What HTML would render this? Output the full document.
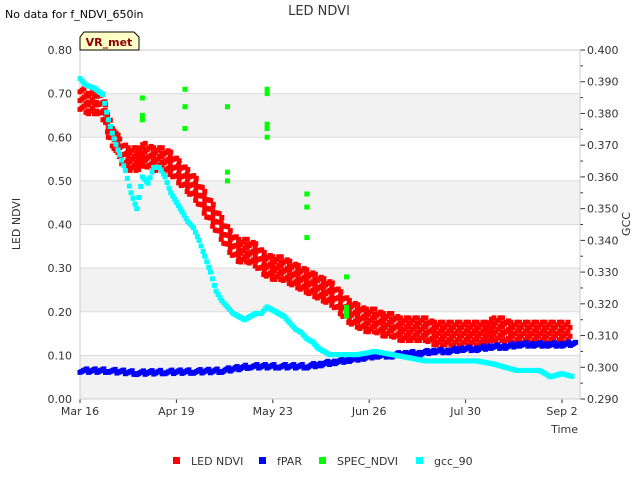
<!DOCTYPE html>
<html><head><meta charset="utf-8"><style>
body{margin:0;background:#fff;font-family:"Liberation Sans","DejaVu Sans",sans-serif;}
svg text{font-family:"DejaVu Sans","Liberation Sans",sans-serif;}
</style></head><body>
<svg id="chart" width="640" height="480">
</svg>
<script>
const ledDays=[0,3,6,9,10,12,14,17,20,23,26,29,32,35,38,41,44,47,50,53,56,59,62,65,68,71,74,77,80,83,86,89,92,95,98,101,104,107,110,113,116,119,122,125,128,131,134,137,140,143,146,149,152,155,158,161,164,167,170,173];
const ledNdvi=[0.69,0.68,0.68,0.66,0.62,0.60,0.57,0.55,0.55,0.56,0.55,0.55,0.54,0.52,0.50,0.48,0.45,0.42,0.39,0.36,0.34,0.34,0.33,0.31,0.30,0.30,0.29,0.28,0.27,0.26,0.25,0.24,0.22,0.20,0.19,0.18,0.18,0.17,0.17,0.16,0.16,0.16,0.16,0.15,0.15,0.15,0.15,0.15,0.15,0.15,0.16,0.16,0.15,0.15,0.15,0.15,0.15,0.15,0.15,0.15];
const fparDays=[0,10,20,30,40,50,60,70,80,85,90,95,100,105,110,115,120,125,130,135,140,145,150,155,160,165,170,175];
const fpar=[0.065,0.065,0.06,0.062,0.063,0.065,0.075,0.075,0.075,0.08,0.085,0.09,0.095,0.10,0.10,0.105,0.105,0.11,0.11,0.115,0.115,0.12,0.12,0.125,0.125,0.125,0.125,0.128];
const gccDays=[0,2,5,8,10,12,14,16,18,20,22,24,26,28,30,32,34,36,38,40,42,44,46,48,50,52,54,56,58,60,62,64,66,68,70,72,74,76,78,80,82,84,86,88,90,94,98,104,110,116,122,128,134,140,146,150,154,158,162,166,170,174];
const gcc=[0.391,0.389,0.388,0.386,0.378,0.372,0.367,0.362,0.355,0.35,0.36,0.358,0.363,0.363,0.36,0.355,0.352,0.349,0.346,0.344,0.34,0.335,0.33,0.324,0.321,0.319,0.317,0.316,0.315,0.316,0.317,0.317,0.319,0.318,0.317,0.316,0.314,0.312,0.311,0.309,0.308,0.306,0.305,0.304,0.304,0.304,0.304,0.305,0.304,0.303,0.302,0.302,0.302,0.302,0.301,0.300,0.299,0.299,0.299,0.297,0.298,0.297];
const specDays=[22,22,22,37,37,37,52,52,52,66,66,66,66,66,80,80,80,94,94,94,94];
const specNdvi=[0.69,0.65,0.64,0.71,0.67,0.62,0.67,0.52,0.50,0.71,0.70,0.63,0.62,0.60,0.47,0.44,0.37,0.28,0.21,0.20,0.19];
const xTickLabels=["Mar 16","Apr 19","May 23","Jun 26","Jul 30","Sep 2"];
const xTickDays=[0,34,68,102,136,170];
const yTicks=[0,0.1,0.2,0.3,0.4,0.5,0.6,0.7,0.8];
const y2Ticks=[0.29,0.30,0.31,0.32,0.33,0.34,0.35,0.36,0.37,0.38,0.39,0.40];

const NS="http://www.w3.org/2000/svg";
const svg=document.getElementById('chart');
const L=80,R=580,T=50,B=399;
const x=d=>L+d*(562-80)/170;
const y=v=>B-v/0.8*(B-T);
const y2=v=>B-(v-0.29)/0.11*(B-T);
function mk(tag,attrs,parent){const e=document.createElementNS(NS,tag);for(const k in attrs)e.setAttribute(k,attrs[k]);(parent||svg).appendChild(e);return e;}
function txt(s,attrs){const e=mk('text',attrs);e.textContent=s;return e;}
function interp(days,vals,step,fn){for(let i=0;i<days.length-1;i++){const d=days[i],n=days[i+1];for(let k=d;k<n;k+=step){fn(k,vals[i]+(vals[i+1]-vals[i])*(k-d)/(n-d));}}}

mk('rect',{x:L,y:T,width:R-L,height:B-T,fill:'#fff'});
for(let i=0;i<8;i+=2){const r=mk('rect',{x:L,y:y(yTicks[i+1]),width:R-L,height:y(yTicks[i])-y(yTicks[i+1]),fill:'#f2f2f2'});

}
yTicks.forEach(v=>{mk('line',{x1:L,x2:R,y1:y(v),y2:y(v),stroke:'#dcdcdc'});
const t=txt(v.toFixed(2),{x:72,y:y(v)+4,'text-anchor':'end','font-size':11,fill:'#333'});

});
y2Ticks.forEach(v=>{mk('line',{x1:R,x2:R+5,y1:y2(v),y2:y2(v),stroke:'#333'});
const t=txt(v.toFixed(3),{x:587,y:y2(v)+4,'font-size':11,fill:'#333'});

});
for(let v=0.295;v<0.40;v+=0.01)mk('line',{x1:R,x2:R+3,y1:y2(v),y2:y2(v),stroke:'#333'});
xTickDays.forEach((d,i)=>{mk('line',{x1:x(d),x2:x(d),y1:B,y2:B+4,stroke:'#333'});
const t=txt(xTickLabels[i],{x:x(d),y:415,'text-anchor':'middle','font-size':11,fill:'#333'});

});
mk('rect',{x:L,y:T,width:R-L,height:B-T,fill:'none',stroke:'#ccc'});

interp(ledDays,ledNdvi,0.7,(k,v)=>{[-0.02,0,0.02].forEach((o,j)=>{
const r=mk('rect',{x:x(k)-2.5,y:y(v+o+((Math.round(k*10)%3)-1)*0.006)-2.5,width:5,height:5,fill:'#f00'});

});});
interp(fparDays,fpar,0.6,(k,v)=>{const o=((Math.round(k*10)%5)-2)*0.002;
const r=mk('rect',{x:x(k)-2.5,y:y(v+o)-2.5,width:5,height:5,fill:'#00f'});

});
interp(gccDays,gcc,0.7,(k,v)=>{const r=mk('rect',{x:x(k)-2.5,y:y2(v)-2.5,width:5,height:5,fill:'#0ff'});

});
specDays.forEach((d,i)=>{const r=mk('rect',{x:x(d)-2.5,y:y(specNdvi[i])-2.5,width:5,height:5,fill:'#0f0'});

});

let t=txt('LED NDVI',{x:319,y:15,'text-anchor':'middle','font-size':13,fill:'#333'});

t=txt('No data for f_NDVI_650in',{x:5,y:18,'font-size':11,fill:'#000'});

let p=mk('path',{d:'M80,50 L80,37 L84,32 L134,32 L139,37 L139,50 Z',fill:'#ffffc8',stroke:'#000','stroke-width':1});

t=txt('VR_met',{x:109,y:46,'text-anchor':'middle','font-size':11,'font-weight':'bold',fill:'#8b0000'});

t=txt('LED NDVI',{x:20,y:224,'text-anchor':'middle','font-size':11,fill:'#333',transform:'rotate(-90 20 224)'});

t=txt('GCC',{x:630,y:224,'text-anchor':'middle','font-size':11,fill:'#333',transform:'rotate(-90 630 224)'});

t=txt('Time',{x:578,y:433,'text-anchor':'end','font-size':11,fill:'#333'});

[['LED NDVI','#f00',173],['fPAR','#00f',259],['SPEC_NDVI','#0f0',319],['gcc_90','#0ff',416]].forEach(([n,c,lx])=>{
const g=mk('g',{});


mk('rect',{x:lx,y:457,width:7,height:7,fill:c},g);
const tt=mk('text',{x:lx+18,y:465,'font-size':11,fill:'#333'},g);tt.textContent=n;});
</script>
</body></html>
